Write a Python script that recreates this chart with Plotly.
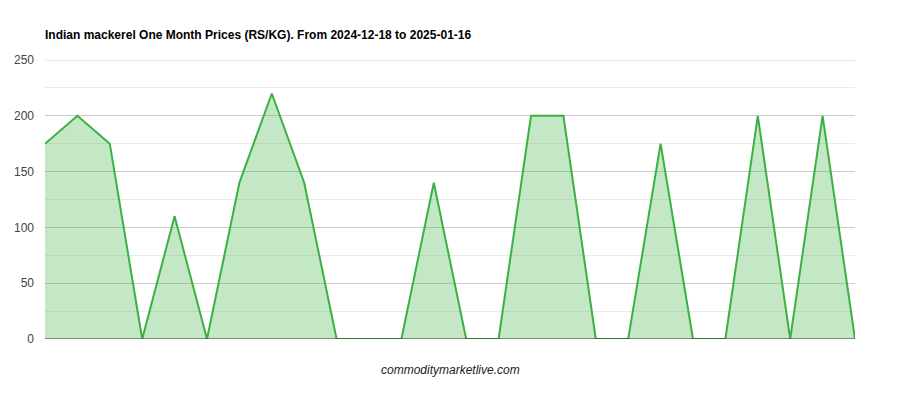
import plotly.graph_objects as go

# daily prices (RS/KG)
days = list(range(26))
prices = [175, 200, 175, 0, 110, 0, 140, 220, 140, 0, 0, 0, 140, 0, 0,
          200, 200, 0, 0, 175, 0, 0, 200, 0, 200, 0]

y_ticks = [0, 50, 100, 150, 200, 250]

# the page body adds an 8px margin, so the figure is a bit smaller
W, H = 892, 392

fig = go.Figure()
fig.add_trace(go.Scatter(
    x=days, y=prices, mode="lines", fill="tozeroy",
    line=dict(color="#3cb043", width=2),
    fillcolor="rgba(60,176,67,0.3)",
    hoverinfo="x+y", showlegend=False,
))

fig.update_layout(
    width=W, height=H,
    margin=dict(l=37, r=45, t=52, b=61),
    paper_bgcolor="white", plot_bgcolor="white",
    font=dict(family="Arial, Liberation Sans, sans-serif", size=12, color="#444"),
    title=dict(
        text="<b>Indian mackerel One Month Prices (RS/KG). From 2024-12-18 to 2025-01-16</b>",
        x=37 / W, xanchor="left", y=1 - 27 / H, yanchor="middle",
        font=dict(size=12, color="#000"),
    ),
    xaxis=dict(range=[0, 25], showticklabels=False, showgrid=False,
               zeroline=False, showline=False, ticks="", automargin=False),
    yaxis=dict(range=[0, 250], tickvals=y_ticks, showgrid=True, gridcolor="#cccccc",
               zeroline=False, showline=False, ticks="", ticklen=0,
               ticklabelstandoff=10, automargin=False,
               minor=dict(dtick=25, showgrid=True, gridcolor="#ebebeb"),
               tickfont=dict(size=12, color="#444")),
)

# top gridline (plotly drops the one sitting on the range edge)
fig.add_shape(type="line", xref="paper", yref="y", x0=0, x1=1, y0=y_ticks[-1], y1=y_ticks[-1],
              line=dict(color="#cccccc", width=1), layer="below")
# dark baseline at zero
fig.add_shape(type="line", xref="paper", yref="y", x0=0, x1=1, y0=0, y1=0,
              line=dict(color="#333", width=1))

fig.add_annotation(text="<i>commoditymarketlive.com</i>", xref="paper", yref="paper",
                   x=0.5, y=-31 / 279, xanchor="center", yanchor="middle",
                   showarrow=False, font=dict(size=12, color="#222"))

fig.write_html("out.html")
